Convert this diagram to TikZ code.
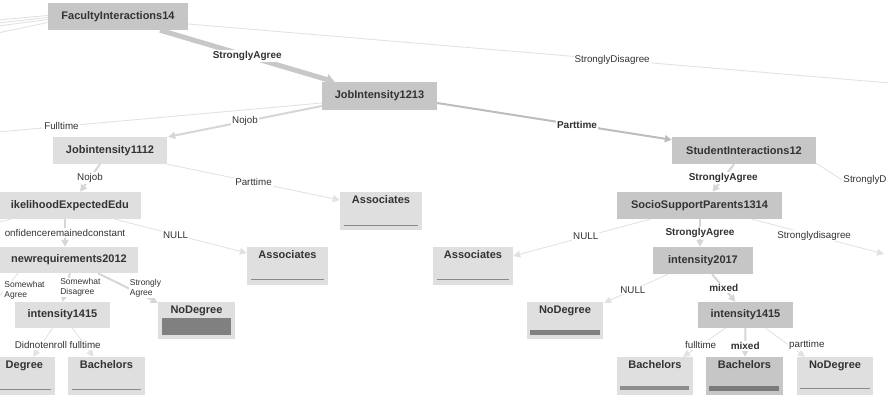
\documentclass[tikz,border=0pt]{standalone}
\usepackage{fontspec}
\setmainfont{Liberation Sans}
\usetikzlibrary{arrows.meta}
\definecolor{midbox}{HTML}{C6C6C6}
\definecolor{lightbox}{HTML}{DFDFE0}
\definecolor{txtc}{HTML}{333333}
\definecolor{edgefaint}{HTML}{E2E2E2}
\definecolor{edgesoft}{HTML}{D6D6D6}
\definecolor{edgemid}{HTML}{BDBDBD}
\definecolor{edgeheavy}{HTML}{C8C8C8}
\definecolor{linec}{HTML}{8A8A8A}
\definecolor{barc}{HTML}{808080}
\definecolor{barmid}{HTML}{8C8C8C}
\definecolor{bardark}{HTML}{7A7A7A}
\begin{document}
\begin{tikzpicture}[x=1pt,y=-1pt,
  nodetext/.style={font=\fontsize{11}{13}\selectfont\bfseries, text=txtc},
  inner/.style={rectangle, inner sep=0pt, nodetext},
  mid/.style={inner, fill=midbox},
  light/.style={inner, fill=lightbox},
  leaftext/.style={nodetext, anchor=north, inner sep=0pt, yshift=-3.5pt},
  leaf/.style={rectangle, inner sep=0pt, fill=lightbox, minimum width=77pt,
    minimum height=40pt, label={[leaftext]north:#1}},
  midleaf/.style={leaf=#1, fill=midbox},
  elab/.style={fill=white, inner sep=1pt, font=\fontsize{9.8}{11}\selectfont, text=txtc},
  belab/.style={elab, font=\fontsize{10}{12}\selectfont\bfseries},
  slab/.style={elab, font=\fontsize{8.5}{10}\selectfont, align=left},
  faint/.style={draw=edgefaint, line width=0.9pt},
  soft/.style={draw=edgesoft, line width=2pt},
  medium/.style={draw=edgemid, line width=2pt},
  heavy/.style={draw=edgeheavy, line width=5pt},
  tip/.style={-{Triangle[length=7pt,width=7pt]}},
  bigtip/.style={-{Triangle[length=8pt,width=11pt]}},
  leafline/.style={draw=linec, line width=1.2pt},
]
\useasboundingbox (0,0) rectangle (888,395);
\clip (0,0) rectangle (888,395);

% ---- internal nodes ----
\node[mid, minimum width=140pt, minimum height=27pt] (fac) at (118,16.5) {FacultyInteractions14};
\node[mid, minimum width=115pt, minimum height=28pt] (job1213) at (379.5,96) {JobIntensity1213};
\node[light, minimum width=114pt, minimum height=27pt] (job1112) at (110,150.5) {Jobintensity1112};
\node[mid, minimum width=144pt, minimum height=27pt] (stu12) at (744,150.5) {StudentInteractions12};
\node[light, anchor=east, minimum height=27pt, inner xsep=12pt] (likeli) at (141,205.5) {ikelihoodExpectedEdu};
\node[mid, minimum width=165pt, minimum height=27pt] (socio) at (699.5,205.5) {SocioSupportParents1314};
\node[light, anchor=east, minimum height=26pt, inner xsep=11pt] (newreq) at (138,260) {newrequirements2012};
\node[mid, minimum width=100pt, minimum height=27pt] (int2017) at (703,260.5) {intensity2017};
\node[light, minimum width=95pt, minimum height=26pt] (int1415l) at (62.5,315) {intensity1415};
\node[mid, minimum width=95pt, minimum height=26pt] (int1415r) at (745.5,315) {intensity1415};

% ---- leaves ----
\node[leaf=Associates, minimum width=82pt, minimum height=38pt] (asup) at (381,211) {};
\node[leaf=Associates, minimum width=81pt, minimum height=38pt] (asleft) at (287.5,266) {};
\node[leaf=Associates, minimum width=80pt, minimum height=38pt] (ascenter) at (473,266) {};
\node[leaf=NoDegree, minimum height=37pt] (nodegl) at (196.5,320.5) {};
\node[leaf=NoDegree, minimum width=76pt, minimum height=37pt] (nodegc) at (565,320.5) {};
\node[rectangle, inner sep=0pt, fill=lightbox, minimum width=77pt, minimum height=40pt,
  label={[nodetext, anchor=north east, inner sep=0pt, xshift=-12pt, yshift=-3.5pt]north east:Degree}] (deg) at (16.5,377) {};
\node[leaf=Bachelors] (bachl) at (106.5,377) {};
\node[leaf=Bachelors, minimum width=76pt] (bach1) at (655,377) {};
\node[midleaf=Bachelors] (bach2) at (744.5,377) {};
\node[leaf=NoDegree, minimum width=76pt] (nodegr) at (835,377) {};

% bars and rules inside the leaves
\draw[leafline] ([xshift=4pt,yshift=5pt]asup.south west) -- ([xshift=-4pt,yshift=5pt]asup.south east);
\draw[leafline] ([xshift=4pt,yshift=6pt]asleft.south west) -- ([xshift=-4pt,yshift=6pt]asleft.south east);
\draw[leafline] ([xshift=4pt,yshift=6pt]ascenter.south west) -- ([xshift=-4pt,yshift=6pt]ascenter.south east);
\fill[barc] ([xshift=4pt,yshift=4pt]nodegl.south west) rectangle ([xshift=-4pt,yshift=21pt]nodegl.south east);
\fill[barc] ([xshift=3pt,yshift=4pt]nodegc.south west) rectangle ([xshift=-3pt,yshift=9pt]nodegc.south east);
\draw[leafline] ([xshift=4pt,yshift=8pt]deg.south west) -- ([xshift=-4pt,yshift=8pt]deg.south east);
\draw[leafline] ([xshift=4pt,yshift=8pt]bachl.south west) -- ([xshift=-4pt,yshift=8pt]bachl.south east);
\fill[barmid] ([xshift=3pt,yshift=7pt]bach1.south west) rectangle ([xshift=-4pt,yshift=11pt]bach1.south east);
\fill[bardark] ([xshift=3pt,yshift=6pt]bach2.south west) rectangle ([xshift=-4pt,yshift=11pt]bach2.south east);
\draw[leafline] ([xshift=3pt,yshift=9pt]nodegr.south west) -- ([xshift=-3pt,yshift=9pt]nodegr.south east);

% ---- free ends of edges leaving the frame ----
\coordinate (offL1) at (-2,20);
\coordinate (offL2) at (-2,23);
\coordinate (offL3) at (-2,26);
\coordinate (offL4) at (-2,33);
\coordinate (offR1) at (890,83);
\coordinate (offFull) at (-2,132);
\coordinate (offR2) at (842,180);
\coordinate (offR3) at (884,254);
\coordinate (offL5) at (-30,230);
\coordinate (offL6) at (-14,312);

% ---- edges ----
\draw[faint] ([yshift=1pt]fac.west) -- (offL1);
\draw[faint] ([yshift=-1pt]fac.west) -- (offL2);
\draw[faint] ([yshift=-3pt]fac.west) -- (offL3);
\draw[faint] ([yshift=-6pt]fac.west) -- (offL4);
\draw[heavy, bigtip] ([xshift=42pt]fac.south) -- node[belab]{StronglyAgree} ([xshift=-45pt]job1213.north);
\draw[faint] ([yshift=-7.5pt]fac.east) -- node[elab, pos=0.604]{StronglyDisagree} (offR1);

\draw[faint] ([yshift=-7pt]job1213.west) -- node[elab, pos=0.804]{Fulltime} (offFull);
\draw[soft, tip] ([yshift=-10pt]job1213.west) -- node[elab]{Nojob} ([xshift=1pt]job1112.north east);
\draw[medium, tip] ([yshift=-7pt]job1213.east) -- node[belab, pos=0.596]{Parttime} ([yshift=-3pt]stu12.north west);

\draw[soft, tip] ([xshift=-10pt]job1112.south) -- node[elab]{Nojob} ([xshift=-61pt]likeli.north east);
\draw[faint, tip] (job1112.south east) -- node[elab]{Parttime} ([yshift=11pt]asup.west);

\draw[soft, tip] ([xshift=-10pt]stu12.south) -- node[belab]{StronglyAgree} ([xshift=13pt]socio.north);
\draw[faint] ([yshift=1pt]stu12.south east) -- (offR2) node[elab, anchor=west]{StronglyD};

\draw[faint] ([xshift=12pt]likeli.south west) -- (offL5);
\draw[soft, tip] ([xshift=-76pt]likeli.south east) -- node[elab]{onfidenceremainedconstant} ([xshift=-73pt]newreq.north east);
\draw[faint, tip] ([xshift=-26pt]likeli.south east) -- node[elab, pos=0.46]{NULL} ([yshift=13pt]asleft.west);

\draw[faint, tip] ([xshift=-49.5pt]socio.south) -- node[elab, pos=0.47]{NULL} ([yshift=10pt]ascenter.east);
\draw[soft, tip] ([xshift=0.5pt]socio.south) -- node[belab]{StronglyAgree} ([xshift=-3pt]int2017.north);
\draw[faint, tip] ([xshift=-30pt]socio.south east) -- node[elab, pos=0.47]{Stronglydisagree} (offR3);

\draw[faint] ([xshift=-120pt]newreq.south east) -- node[slab, pos=0.5, anchor=west, xshift=1pt, yshift=2pt]{Somewhat\\Agree} (offL6);
\draw[soft, tip] ([xshift=-68pt]newreq.south east) -- node[slab, pos=0.5, anchor=west, xshift=-8pt]{Somewhat\\Disagree} (int1415l.north);
\draw[soft, tip] ([xshift=-40pt]newreq.south east) -- node[slab, pos=0.5, anchor=west]{Strongly\\Agree} ([yshift=-1pt]nodegl.north west);

\draw[faint, tip] ([xshift=-10pt]int1415l.south) -- node[elab, pos=0.6]{Didnotenroll} ([xshift=-22pt]deg.north east);
\draw[faint, tip] ([xshift=10pt]int1415l.south) -- node[elab, pos=0.6]{fulltime} ([xshift=-13pt]bachl.north);

\draw[faint, tip] ([xshift=-35pt]int2017.south) -- node[elab, pos=0.55]{NULL} ([xshift=1pt,yshift=-1pt]nodegc.north east);
\draw[soft, tip] ([xshift=9pt]int2017.south) -- node[belab]{mixed} ([xshift=-10pt]int1415r.north);

\draw[faint, tip] ([xshift=-20pt]int1415r.south) -- node[elab, pos=0.586]{fulltime} ([xshift=28pt]bach1.north);
\draw[soft, tip] (int1415r.south) -- node[belab, pos=0.62]{mixed} ([xshift=0.5pt]bach2.north);
\draw[faint, tip] ([xshift=20pt]int1415r.south) -- node[elab, pos=0.586, anchor=west, xshift=-1pt]{parttime} ([xshift=-30pt]nodegr.north);
\end{tikzpicture}
\end{document}
